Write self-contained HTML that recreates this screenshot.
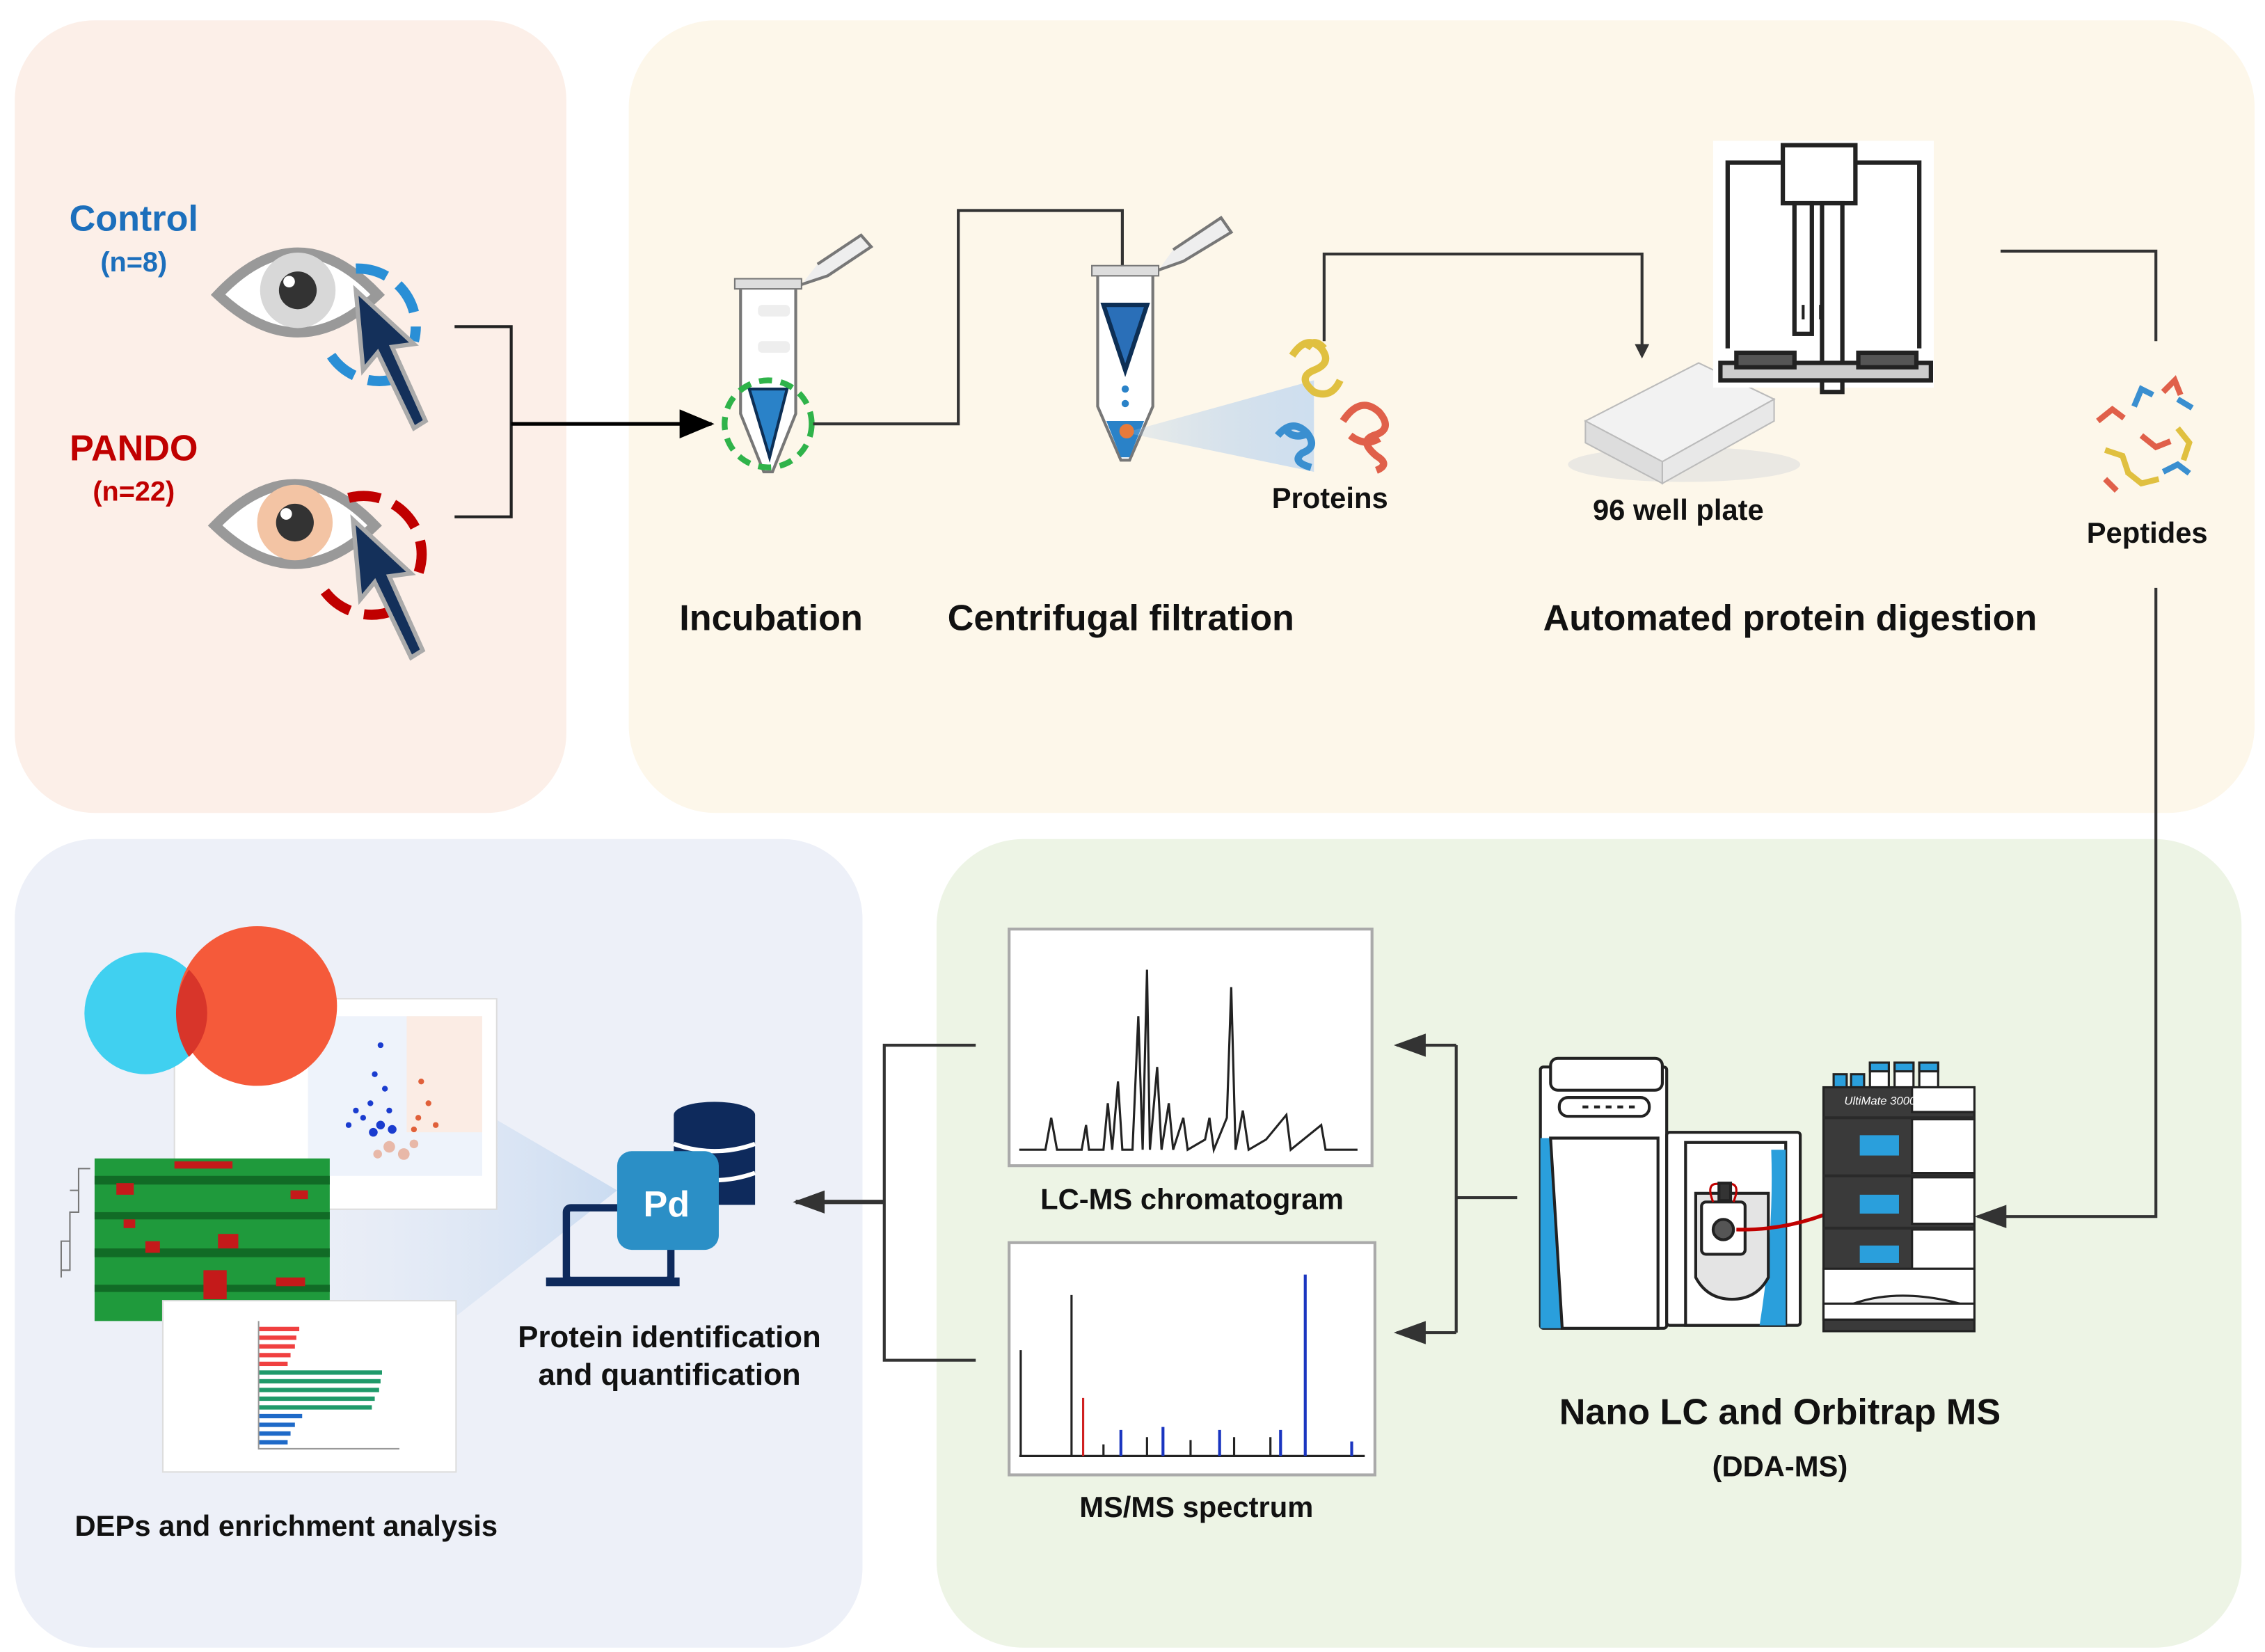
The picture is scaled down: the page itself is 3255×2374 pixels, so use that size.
<!DOCTYPE html>
<html><head><meta charset="utf-8"><style>
html,body{margin:0;padding:0;background:#fff}
svg{display:block}
text{font-family:"Liberation Sans",sans-serif;font-weight:bold;text-anchor:middle}
</style></head><body>
<svg width="3255" height="2374" viewBox="0 0 1560 1138" xmlns="http://www.w3.org/2000/svg">
<defs>
<marker id="ah" markerWidth="10" markerHeight="10" refX="8" refY="5" orient="auto" markerUnits="userSpaceOnUse"><path d="M0,0 L10,5 L0,10 z" fill="#333"/></marker>
<marker id="ahb" markerWidth="24" markerHeight="20" refX="22" refY="10" orient="auto" markerUnits="userSpaceOnUse"><path d="M0,0 L24,10 L0,20 z" fill="#000"/></marker>
<marker id="ahm" markerWidth="22" markerHeight="16" refX="20" refY="8" orient="auto" markerUnits="userSpaceOnUse"><path d="M0,0 L22,8 L0,16 z" fill="#333"/></marker>
<linearGradient id="beam" x1="1" x2="0"><stop offset="0" stop-color="#c9dcf0" stop-opacity="0.9"/><stop offset="1" stop-color="#a9c8ea" stop-opacity="0.2"/></linearGradient>
<linearGradient id="beam2" x1="1" x2="0"><stop offset="0" stop-color="#bcd3ee"/><stop offset="1" stop-color="#dfe7f3" stop-opacity="0.3"/></linearGradient>
</defs>
<!-- panels -->
<rect x="10" y="14" width="380" height="546" rx="55" fill="#fcefe8"/>
<rect x="433" y="14" width="1120" height="546" rx="60" fill="#fdf7ea"/>
<rect x="10" y="578" width="584" height="557" rx="55" fill="#edf0f8"/>
<rect x="645" y="578" width="899" height="557" rx="60" fill="#edf4e5"/>

<!-- labels left -->
<text x="92" y="159" font-size="25" fill="#1c6fbc">Control</text>
<text x="92" y="187" font-size="19" fill="#1c6fbc">(n=8)</text>
<text x="92" y="317" font-size="25" fill="#c00000">PANDO</text>
<text x="92" y="345" font-size="19" fill="#c00000">(n=22)</text>

<!-- eyes -->
<g>
<path d="M150,203 Q205,145 260,203 Q205,255 150,203 z" fill="#fff" stroke="#999" stroke-width="7"/>
<circle cx="205" cy="200" r="26" fill="#d8d8d8"/><circle cx="205" cy="200" r="13" fill="#333"/><circle cx="199" cy="194" r="4" fill="#fff"/>
<path d="M245,185 A40,40 0 0 1 285,235" fill="none" stroke="#2a8fd6" stroke-width="7" stroke-dasharray="22,10"/>
<path d="M275,260 A40,40 0 0 1 228,245" fill="none" stroke="#2a8fd6" stroke-width="7" stroke-dasharray="22,10"/>
<path d="M245,200 L250,255 L260,243 L285,295 L293,290 L270,239 L285,237 z" fill="#14305a" stroke="#aaa" stroke-width="3"/>
</g>
<g>
<path d="M148,362 Q203,305 258,362 Q203,415 148,362 z" fill="#fff" stroke="#999" stroke-width="7"/>
<circle cx="203" cy="360" r="26" fill="#f3c4a4"/><circle cx="203" cy="360" r="13" fill="#333"/><circle cx="197" cy="354" r="4" fill="#fff"/>
<path d="M240,343 A40,40 0 0 1 288,395" fill="none" stroke="#c00000" stroke-width="7" stroke-dasharray="22,10"/>
<path d="M272,420 A40,40 0 0 1 222,405" fill="none" stroke="#c00000" stroke-width="7" stroke-dasharray="22,10"/>
<path d="M243,358 L248,413 L258,401 L283,453 L291,448 L268,397 L283,395 z" fill="#14305a" stroke="#aaa" stroke-width="3"/>
</g>

<!-- bracket -->
<path d="M313,225 H352 V356 H313" fill="none" stroke="#222" stroke-width="2"/>
<line x1="352" y1="292" x2="490" y2="292" stroke="#000" stroke-width="2.5" marker-end="url(#ahb)"/>

<!-- incubation tube -->
<g>
<path d="M510,197 L548,197 L548,285 L532,325 L526,325 L510,285 z" fill="#fff" stroke="#777" stroke-width="2"/>
<rect x="506" y="192" width="46" height="7" fill="#ddd" stroke="#777"/>
<path d="M552,196 L570,190 L600,170 L593,162 L563,182" fill="#eee" stroke="#777" stroke-width="2"/>
<rect x="522" y="210" width="22" height="8" rx="3" fill="#eee"/><rect x="522" y="235" width="22" height="8" rx="3" fill="#eee"/>
<path d="M516,268 L542,268 L530,315 z" fill="#2a82c8" stroke="#0d2f55" stroke-width="2"/>
<circle cx="529" cy="292" r="30" fill="none" stroke="#2fb34a" stroke-width="4" stroke-dasharray="9,6"/>
</g>
<text x="531" y="434" font-size="25" fill="#111">Incubation</text>
<path d="M560,292 H660 V145 H773 V210" fill="none" stroke="#333" stroke-width="2" marker-end="url(#ah)"/>

<!-- centrifugal tube -->
<g>
<path d="M756,187 L794,187 L794,280 L778,317 L772,317 L756,280 z" fill="#fff" stroke="#777" stroke-width="2"/>
<rect x="752" y="183" width="46" height="7" fill="#ddd" stroke="#777"/>
<path d="M798,186 L815,180 L848,160 L841,150 L808,172" fill="#eee" stroke="#777" stroke-width="2"/>
<path d="M760,210 L790,210 L775,255 z" fill="#2a6fb8" stroke="#0d2f55" stroke-width="3"/>
<circle cx="775" cy="268" r="2.5" fill="#2a82c8"/><circle cx="775" cy="278" r="2.5" fill="#2a82c8"/>
<path d="M762,290 L788,290 L778,315 L772,315 z" fill="#2a82c8"/>
<path d="M775,298 L905,262 L905,325 z" fill="url(#beam)"/>
<circle cx="776" cy="297" r="5" fill="#e87a3a"/>
</g>
<!-- proteins -->
<path d="M890,245 q10,-15 20,-5 q8,10 -5,15 q-12,5 0,15 q12,5 18,-8 M900,240 q5,-8 12,0" fill="none" stroke="#e0c040" stroke-width="5"/>
<path d="M880,300 q10,-12 20,-2 q8,10 -3,14 q-8,6 6,10 M885,295 q5,8 15,4" fill="none" stroke="#3a8fd0" stroke-width="5"/>
<path d="M925,290 q12,-18 25,-6 q10,12 -4,16 q-10,4 2,14 q10,6 0,10 M930,300 q10,8 20,2" fill="none" stroke="#e0604a" stroke-width="5"/>
<text x="916" y="350" font-size="20" fill="#111">Proteins</text>
<text x="772" y="434" font-size="25" fill="#111">Centrifugal filtration</text>
<path d="M912,235 V175 H1131 V245" fill="none" stroke="#333" stroke-width="2" marker-end="url(#ah)"/>

<!-- 96 well plate -->
<ellipse cx="1160" cy="320" rx="80" ry="12" fill="#ddd" opacity="0.6"/>
<path d="M1092,290 L1170,250 L1222,275 L1145,318 z" fill="#f2f2f2" stroke="#bbb"/>
<path d="M1092,290 L1092,305 L1145,333 L1145,318 z" fill="#ddd" stroke="#bbb"/>
<path d="M1145,318 L1222,275 L1222,290 L1145,333 z" fill="#e8e8e8" stroke="#bbb"/>
<text x="1156" y="358" font-size="20" fill="#111">96 well plate</text>

<!-- digestion robot -->
<g stroke="#222" stroke-width="3" fill="#fff">
<rect x="1180" y="97" width="152" height="170" fill="#fff" stroke="none"/>
<path d="M1190,240 V112 H1322 V240"/>
<rect x="1228" y="100" width="50" height="40"/>
<rect x="1236" y="140" width="12" height="90"/>
<rect x="1255" y="140" width="14" height="130"/>
<rect x="1185" y="250" width="145" height="12" fill="#ccc"/>
<rect x="1196" y="243" width="40" height="10" fill="#555"/>
<rect x="1280" y="243" width="40" height="10" fill="#555"/>
<path d="M1242,210 v10 M1248,210 v12 M1254,210 v10" stroke-width="2"/>
</g>
<text x="1233" y="434" font-size="25" fill="#111">Automated protein digestion</text>
<path d="M1378,173 H1485 V235" fill="none" stroke="#333" stroke-width="2"/>
<!-- peptides -->
<g fill="none" stroke-width="4">
<path d="M1445,290 l10,-8 l8,6" stroke="#e0604a"/><path d="M1470,280 l5,-12 l8,4" stroke="#3a8fd0"/>
<path d="M1490,270 l8,-8 l4,10" stroke="#e0604a"/><path d="M1450,310 l12,4 l4,12" stroke="#e0c040"/>
<path d="M1475,300 l10,8 l10,-4" stroke="#e0604a"/><path d="M1500,295 l8,10 l-4,12" stroke="#e0c040"/>
<path d="M1465,325 l10,8 l12,-3" stroke="#e0c040"/><path d="M1490,325 l10,-5 l8,6" stroke="#3a8fd0"/>
<path d="M1500,275 l10,6" stroke="#3a8fd0"/><path d="M1450,330 l8,8" stroke="#e0604a"/>
</g>
<text x="1479" y="374" font-size="20" fill="#111">Peptides</text>
<path d="M1485,405 V838 H1362" fill="none" stroke="#333" stroke-width="2" marker-end="url(#ahm)"/>

<!-- instrument: MS tall unit -->
<g stroke="#222" stroke-width="2">
<rect x="1061" y="735" width="87" height="180" rx="2" fill="#fff"/>
<path d="M1061,784 H1068 L1076,915 H1061 z" fill="#2a9fdc" stroke="none"/>
<rect x="1068" y="729" width="77" height="22" rx="5" fill="#fff"/>
<rect x="1074" y="756" width="62" height="13" rx="6" fill="#fff"/>
<path d="M1090,762.5 h4 M1098,762.5 h4 M1106,762.5 h4 M1114,762.5 h4 M1122,762.5 h4" stroke-width="2"/>
<path d="M1068,784 H1142 V915 H1076 z" fill="#fff"/>
<!-- side unit -->
<rect x="1148" y="780" width="92" height="133" rx="2" fill="#fff"/>
<rect x="1161" y="787" width="69" height="126" fill="#fff"/>
<path d="M1220,792 H1230 V913 H1212 Q1222,850 1220,792 z" fill="#2a9fdc" stroke="none"/>
<path d="M1168,822 H1218 V880 Q1210,895 1193,895 Q1176,895 1168,880 z" fill="#e4e4e4"/>
<rect x="1172" y="828" width="30" height="36" rx="3" fill="#fff"/>
<circle cx="1187" cy="847" r="7" fill="#555"/>
<path d="M1196,847 Q1240,848 1280,826" fill="none" stroke="#c00000" stroke-width="2.5"/>
<path d="M1180,828 q-6,-15 6,-12 M1194,828 q6,-15 -6,-12" fill="none" stroke="#c00000" stroke-width="1.5"/>
<rect x="1184" y="815" width="8" height="12" fill="#333"/>
</g>
<!-- LC stack -->
<g stroke="#222" stroke-width="1.5">
<rect x="1263" y="740" width="9" height="9" fill="#2a9fdc"/><rect x="1275" y="740" width="9" height="9" fill="#2a9fdc"/>
<rect x="1288" y="732" width="13" height="17" fill="#fff"/><rect x="1305" y="732" width="13" height="17" fill="#fff"/><rect x="1322" y="732" width="13" height="17" fill="#fff"/>
<rect x="1288" y="732" width="13" height="6" fill="#2a9fdc"/><rect x="1305" y="732" width="13" height="6" fill="#2a9fdc"/><rect x="1322" y="732" width="13" height="6" fill="#2a9fdc"/>
<rect x="1256" y="749" width="104" height="168" fill="#3a3a3a"/>
<rect x="1317" y="749" width="43" height="17" fill="#fff"/>
<rect x="1317" y="771" width="43" height="37" fill="#fff"/>
<rect x="1317" y="811" width="43" height="32" fill="#fff"/>
<rect x="1317" y="847" width="43" height="27" fill="#fff"/>
<rect x="1256" y="874" width="104" height="35" fill="#fff"/>
<path d="M1265,903 Q1300,885 1350,898" fill="#eee"/>
<rect x="1256" y="898" width="104" height="11" fill="#fff"/>
</g>
<g fill="#2a9fdc">
<rect x="1281" y="782" width="27" height="14"/><rect x="1281" y="823" width="27" height="13"/><rect x="1281" y="858" width="27" height="12"/>
</g>
<path d="M1256,770 H1360 M1256,810 H1360 M1256,846 H1360" stroke="#2a2a2a" stroke-width="2"/>
<text x="1295" y="761" font-size="8" fill="#fff" style="font-style:italic;font-weight:normal">UltiMate 3000</text>
<text x="1226" y="981" font-size="25" fill="#111">Nano LC and Orbitrap MS</text>
<text x="1226" y="1017" font-size="20" fill="#111">(DDA-MS)</text>

<!-- connectors green -->
<path d="M1045,825 H1003" fill="none" stroke="#333" stroke-width="2"/>
<path d="M1003,720 V918" fill="none" stroke="#333" stroke-width="2"/>
<line x1="1003" y1="720" x2="962" y2="720" stroke="#333" stroke-width="2" marker-end="url(#ahm)"/>
<line x1="1003" y1="918" x2="962" y2="918" stroke="#333" stroke-width="2" marker-end="url(#ahm)"/>

<!-- chromatogram -->
<rect x="695" y="640" width="250" height="163" fill="#fff" stroke="#aaa" stroke-width="2"/>
<path d="M702,792 L720,792 L724,770 L728,792 L745,792 L748,775 L750,792 L760,792 L763,760 L766,792 L770,745 L773,792 L780,792 L784,700 L787,792 L790,668 L792,792 L797,735 L800,792 L805,760 L808,792 L815,770 L818,792 L830,785 L833,770 L836,792 L845,770 L848,680 L851,792 L856,765 L860,792 L872,785 L886,768 L889,792 L910,775 L913,792 L935,792" fill="none" stroke="#222" stroke-width="1.5"/>
<text x="821" y="833" font-size="20" fill="#111">LC-MS chromatogram</text>
<!-- spectrum -->
<rect x="695" y="856" width="252" height="160" fill="#fff" stroke="#aaa" stroke-width="2"/>
<path d="M702,1003 H940 M703,1003 V930 M738,1003 V892 M760,1003 V995 M790,1003 V990 M820,1003 V992 M850,1003 V990 M875,1003 V990" stroke="#222" stroke-width="1.5"/>
<path d="M746,1003 V963" stroke="#d02020" stroke-width="1.5"/>
<path d="M899,1003 V878 M772,1003 V985 M801,1003 V983 M840,1003 V985 M882,1003 V985 M931,1003 V993" stroke="#1a35c0" stroke-width="2"/>
<text x="824" y="1045" font-size="20" fill="#111">MS/MS spectrum</text>

<!-- left connectors -->
<path d="M672,720 H609 V937 H672" fill="none" stroke="#333" stroke-width="2"/>
<line x1="609" y1="828" x2="548" y2="828" stroke="#333" stroke-width="3" marker-end="url(#ahm)"/>

<!-- PD icon -->
<path d="M425,820 L220,700 L220,980 z" fill="url(#beam2)" opacity="0.7"/>
<ellipse cx="492" cy="768" rx="28" ry="9" fill="#0e2a5c"/>
<rect x="464" y="768" width="56" height="62" fill="#0e2a5c"/>
<path d="M464,788 q28,10 56,0 M464,808 q28,10 56,0" stroke="#fff" stroke-width="3" fill="none"/>
<rect x="390" y="832" width="72" height="50" rx="3" fill="none" stroke="#0e2a5c" stroke-width="5"/>
<rect x="376" y="880" width="92" height="6" fill="#0e2a5c"/>
<rect x="425" y="793" width="70" height="68" rx="10" fill="#2b8fc6"/>
<text x="459" y="838" font-size="25" fill="#fff">Pd</text>
<text x="461" y="928" font-size="21" fill="#111">Protein identification</text>
<text x="461" y="954" font-size="21" fill="#111">and quantification</text>

<!-- DEPs images -->
<rect x="120" y="688" width="222" height="145" fill="#fff" stroke="#ddd"/>
<rect x="212" y="700" width="120" height="110" fill="#eef3fb"/>
<rect x="280" y="700" width="52" height="80" fill="#fbece4"/>
<g fill="#1a3ccf">
<circle cx="262" cy="720" r="2"/><circle cx="258" cy="740" r="2"/><circle cx="265" cy="750" r="2"/><circle cx="255" cy="760" r="2"/><circle cx="268" cy="765" r="2"/><circle cx="250" cy="770" r="2"/><circle cx="262" cy="775" r="3"/><circle cx="245" cy="765" r="2"/><circle cx="240" cy="775" r="2"/><circle cx="270" cy="778" r="3"/><circle cx="257" cy="780" r="3"/>
</g>
<g fill="#e0603a"><circle cx="290" cy="745" r="2"/><circle cx="295" cy="760" r="2"/><circle cx="288" cy="770" r="2"/><circle cx="300" cy="775" r="2"/><circle cx="285" cy="778" r="2"/></g>
<g fill="#e8b8a8"><circle cx="268" cy="790" r="4"/><circle cx="278" cy="795" r="4"/><circle cx="260" cy="795" r="3"/><circle cx="285" cy="788" r="3"/></g>
<circle cx="100" cy="698" r="42" fill="#40d0f0"/>
<circle cx="177" cy="693" r="55" fill="#f55a3a"/>
<path d="M130,668 A42,42 0 0 1 130,728 A55,55 0 0 1 130,668 z" fill="#d8352a"/>
<rect x="65" y="798" width="162" height="112" fill="#1f9a3c"/>
<g fill="#116b26"><rect x="65" y="810" width="162" height="6"/><rect x="65" y="835" width="162" height="5"/><rect x="65" y="860" width="162" height="6"/><rect x="65" y="885" width="162" height="5"/></g>
<g fill="#c41a1a"><rect x="80" y="815" width="12" height="8"/><rect x="120" y="800" width="40" height="5"/><rect x="150" y="850" width="14" height="10"/><rect x="140" y="875" width="16" height="20"/><rect x="190" y="880" width="20" height="6"/><rect x="200" y="820" width="12" height="6"/><rect x="100" y="855" width="10" height="8"/><rect x="85" y="840" width="8" height="6"/></g>
<path d="M62,805 h-8 v30 h-6 v40 h-6 M54,820 h-6 M48,855 h-6 v25" fill="none" stroke="#777" stroke-width="1"/>
<rect x="112" y="896" width="202" height="118" fill="#fff" stroke="#ddd"/>
<g fill="#f04040"><rect x="178" y="914" width="28" height="3"/><rect x="178" y="920" width="26" height="3"/><rect x="178" y="926" width="25" height="3"/><rect x="178" y="932" width="22" height="3"/><rect x="178" y="938" width="20" height="3"/></g>
<g fill="#1f9a6a"><rect x="178" y="944" width="85" height="3"/><rect x="178" y="950" width="84" height="3"/><rect x="178" y="956" width="83" height="3"/><rect x="178" y="962" width="80" height="3"/><rect x="178" y="968" width="78" height="3"/></g>
<g fill="#1f6ac8"><rect x="178" y="974" width="30" height="3"/><rect x="178" y="980" width="25" height="3"/><rect x="178" y="986" width="22" height="3"/><rect x="178" y="992" width="20" height="3"/></g>
<path d="M178,910 V998 H275" stroke="#999" fill="none"/>
<text x="197" y="1058" font-size="20" fill="#111">DEPs and enrichment analysis</text>
</svg>
</body></html>
